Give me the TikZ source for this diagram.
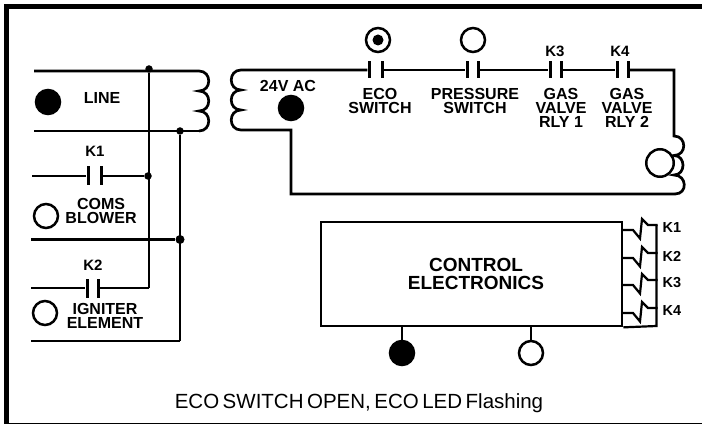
\documentclass[tikz,border=0pt]{standalone}
\usepackage{fontspec}
\setmainfont{Liberation Sans}
\tikzset{
  wire/.style={line width=2.7pt},
  lamp/.style={circle, draw, line width=2.5pt, fill=white, inner sep=0pt, minimum size=24pt},
  lampon/.style={lamp, fill=black},
  junction/.style={circle, fill=black, inner sep=0pt, minimum size=7.5pt},
  plate/.style={rectangle, fill=black, inner sep=0pt, minimum width=3pt, minimum height=17pt},
  lbl/.style={font=\fontsize{16}{14}\selectfont\bfseries, align=center, inner sep=0pt},
  klbl/.style={font=\fontsize{15}{15}\selectfont\bfseries, inner sep=0pt},
  coil/.style={insert path={.. controls +(#1,0) and +(#1,0) .. ++(0,20)
    .. controls +(#1,0) and +(#1,0) .. ++(0,20)
    .. controls +(#1,0) and +(#1,0) .. ++(0,20)}}
}
\begin{document}
\begin{tikzpicture}[x=1pt, y=-1pt]
  \useasboundingbox (0,0) rectangle (702,425);
  % frame
  \draw[line width=5.5pt] (702,6.5) -- (6.5,6.5) -- (6.5,423.5);
  \draw[line width=1.6pt] (4,423.5) -- (702,423.5);

  % line side
  \coordinate (lt) at (34,71);
  \coordinate (lb) at (34,131);
  \coordinate (lc) at (199,71);
  \coordinate (ld) at (199,131);
  \draw[wire] (lt) -- (lc) [coil=13];
  \draw[wire] (lb) -- (ld);
  \node[junction] (j1) at (149,69) {};
  \node[junction] (j2) at (180,131) {};
  \node[junction] (j3) at (148,176) {};
  \node[junction, minimum size=9pt] (j4) at (180,239.5) {};
  \coordinate (k2end) at (149,288);
  \coordinate (retend) at (180,341);
  \draw[wire] (j1) -- (k2end);
  \draw[wire] (j2) -- (retend);
  \coordinate (w1) at (32,176);
  \coordinate (w2) at (31,239.5);
  \coordinate (w3) at (31,288);
  \coordinate (w4) at (31,341);
  \node[plate, minimum height=19pt] (k1a) at (88,176) {};
  \node[plate, minimum height=19pt] (k1b) at (101,176) {};
  \node[plate, minimum height=19pt] (k2a) at (87,288) {};
  \node[plate, minimum height=19pt] (k2b) at (98,288) {};
  \draw[wire] (w1) -- (k1a);
  \draw[wire] (k1b) -- (j3);
  \draw[wire] (w2) -- (j4);
  \draw[wire] (w3) -- (k2a);
  \draw[wire] (k2b) -- (k2end);
  \draw[wire] (w4) -- (retend);
  \node[lampon] (line) at (48,102) {};
  \node[lamp] (blower) at (46,216) {};
  \node[lamp] (igniter) at (45,313) {};
  \node[lbl] (linelbl) at (102,98) {LINE};
  \node[klbl] (k1lbl) at (95,151) {K1};
  \node[lbl] (blowerlbl) at (101,211) {COMS\\BLOWER};
  \node[klbl] (k2lbl) at (93,265) {K2};
  \node[lbl] (igniterlbl) at (105,316) {IGNITER\\ELEMENT};

  % 24V side
  \coordinate (sa) at (241,70);
  \coordinate (sb) at (241,130);
  \coordinate (sc) at (291,130);
  \coordinate (sd) at (291,194);
  \coordinate (se) at (675,194);
  \coordinate (sf) at (674,136);
  \coordinate (sg) at (674,70);
  \foreach \nm/\xa/\xb in {eco/369/382, press/467/478, k3/550/561, k4/617/628} {
    \node[plate] (\nm a) at (\xa,70) {};
    \node[plate] (\nm b) at (\xb,70) {};
  }
  \draw[wire] (ecoa) -- (sa) [coil=-13] -- (sc) -- (sd) -- (se);
  \draw[wire] (ecob) -- (pressa);
  \draw[wire] (pressb) -- (k3a);
  \draw[wire] (k3b) -- (k4a);
  \draw[wire] (k4b) -- (sg) -- (sf) .. controls +(13,0) and +(13,0) .. ++(0,19.5)
    .. controls +(12,0) and +(12,0) .. ++(0,19.5)
    .. controls +(13,0) and +(13,0) .. (se);
  \node[lamp, minimum size=27.5pt] (gas) at (660,163) {};
  \node[lampon] (ac) at (291,108) {};
  \node[lamp] (ecoled) at (378,40) {};
  \node[circle, fill=black, inner sep=0pt, minimum size=11pt] (ecodot) at (378,40) {};
  \node[lamp] (pressled) at (473,40) {};
  \node[lbl] (aclbl) at (288,86) {24V AC};
  \node[klbl] (k3lbl) at (555,51) {K3};
  \node[klbl] (k4lbl) at (620,51) {K4};
  \node[lbl] (ecolbl) at (380,101) {ECO\\SWITCH};
  \node[lbl] (presslbl) at (475,101) {PRESSURE\\SWITCH};
  \node[lbl] (rly1lbl) at (561,108) {GAS\\VALVE\\RLY 1};
  \node[lbl] (rly2lbl) at (627,108) {GAS\\VALVE\\RLY 2};

  % control box
  \node[draw, line width=2.7pt, inner sep=0pt, minimum width=301pt, minimum height=104pt] (ctrl) at (471.5,274) {};
  \node[font=\fontsize{19}{18}\selectfont\bfseries, align=center, inner sep=0pt] (ctrllbl) at (476,274) {CONTROL\\ELECTRONICS};
  \node[lampon] (led1) at (402,353) {};
  \node[lamp] (led2) at (531,353) {};
  \draw[wire] (ctrl.south -| led1) -- (led1);
  \draw[wire] (ctrl.south -| led2) -- (led2);

  % relay coils
  \coordinate (bust) at (656.5,225);
  \coordinate (busb) at (656.5,326);
  \draw[line width=2.2pt] (bust) -- (busb) -- (ctrl.south east);
  \foreach \n/\yy in {1/230, 2/258, 3/285, 4/313} {
    \coordinate (r\n) at (623,\yy);
    \draw[line width=2.2pt] (r\n) -- ++(10,0) -- ++(7,8.5) -- ++(2,-19.5) -- ++(6,6) -- ++(9.5,0);
  }
  \foreach \n/\yy in {1/228, 2/256, 3/283, 4/311} {
    \node[klbl, font=\fontsize{14.5}{15}\selectfont\bfseries] (rl\n) at (672,\yy) {K\n};
  }

  % caption
  \node[font=\fontsize{20.5}{20}\selectfont, inner sep=0pt] (caption) at (359,403) {\spaceskip=3.5pt ECO SWITCH OPEN, ECO LED Flashing};
\end{tikzpicture}
\end{document}
